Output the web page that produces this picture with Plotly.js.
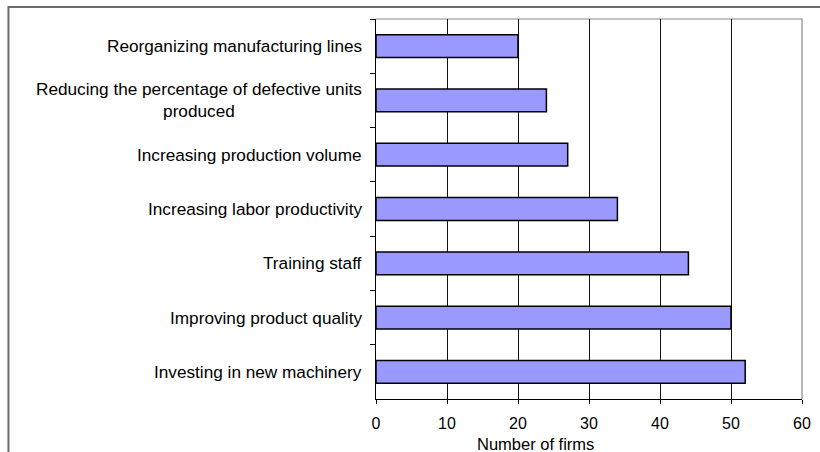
<!DOCTYPE html>
<html>
<head>
<meta charset="utf-8">
<script src="https://cdn.plot.ly/plotly-3.0.1.min.js"></script>
<style>
  html, body { margin: 0; padding: 0; background: #fff; }
  #chart { width: 820px; height: 452px; }
</style>
</head>
<body>
<div id="chart"></div>
<script>
// Measures listed from the top row of the chart to the bottom row
const categories = [
  "Reorganizing manufacturing lines",
  "Reducing the percentage of defective units<br>produced",
  "Increasing production volume",
  "Increasing labor productivity",
  "Training staff",
  "Improving product quality",
  "Investing in new machinery"
];
const firms = [20, 24, 27, 34, 44, 50, 52];
const xTicks = [0, 10, 20, 30, 40, 50, 60];
const xTitle = "Number of firms";

const FONT = "Liberation Sans, Arial, sans-serif";

const trace = {
  type: "bar",
  orientation: "h",
  y: categories,
  x: firms,
  marker: { color: "#9999FF", line: { color: "#000000", width: 1.5 } },
  hoverinfo: "x+y"
};

// Category labels as centred, multi-line text to the left of the axis
const labelNotes = categories.map(c => ({
  xref: "paper", yref: "y",
  x: 0, y: c,
  xanchor: "right", yanchor: "middle",
  xshift: -12,
  text: c, align: "center", showarrow: false,
  font: { family: FONT, size: 17.2, color: "#000" }
}));

const layout = {
  width: 820, height: 452,
  margin: { l: 376, r: 17.5, t: 19, b: 53, pad: 0 },
  paper_bgcolor: "#ffffff",
  plot_bgcolor: "#ffffff",
  showlegend: false,
  bargap: 0.58,
  font: { family: FONT, color: "#000" },
  xaxis: {
    range: [0, 60],
    tickvals: xTicks,
    ticktext: xTicks.map(String),
    showgrid: true, gridcolor: "#111", gridwidth: 1,
    zeroline: false,
    showline: true, linecolor: "#000", linewidth: 1,
    ticks: "outside", ticklen: 4, tickcolor: "#000",
    ticklabelstandoff: 6,
    tickfont: { family: FONT, size: 16, color: "#000" },
    fixedrange: true
  },
  yaxis: {
    type: "category",
    autorange: "reversed",
    showticklabels: false,
    showgrid: false, zeroline: false,
    showline: true, linecolor: "#000", linewidth: 1,
    ticks: "outside", tickson: "boundaries", ticklen: 5, tickcolor: "#000",
    fixedrange: true
  },
  shapes: [
    // plot-area frame on the top and right sides
    { type: "path", xref: "paper", yref: "paper",
      path: "M 0 1 L 1 1 L 1 0",
      line: { color: "#888", width: 1.2 }, layer: "below" },
    // outer chart border (left and top)
    { type: "path", xref: "paper", yref: "paper",
      path: "M -0.8628 -0.3 L -0.8628 1.0316 L 1.2 1.0316",
      line: { color: "#6a6a6a", width: 2 }, layer: "above" }
  ],
  annotations: labelNotes.concat([{
    xref: "paper", yref: "paper",
    x: 0.375, y: -0.118,
    xanchor: "center", yanchor: "middle",
    text: xTitle, showarrow: false,
    font: { family: FONT, size: 16.5, color: "#000" }
  }])
};

Plotly.newPlot("chart", [trace], layout, { displayModeBar: false, staticPlot: true });
</script>
</body>
</html>
